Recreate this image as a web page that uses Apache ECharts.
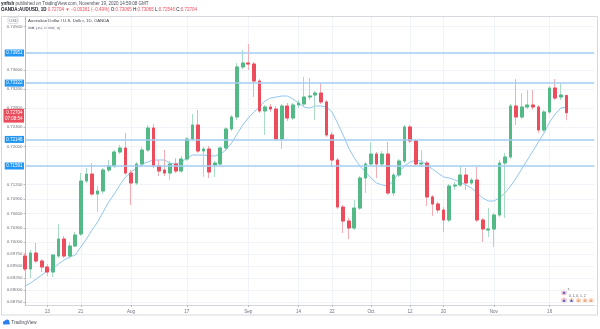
<!DOCTYPE html>
<html>
<head>
<meta charset="utf-8">
<script src="https://cdn.jsdelivr.net/npm/echarts@6/dist/echarts.min.js"></script>
<style>
  html, body { margin: 0; padding: 0; background: #ffffff; }
  #chart { width: 600px; height: 329px; }
</style>
</head>
<body>
<div id="chart"></div>
<script>
// AUD/USD daily candles, OANDA, 7 Jul - 19 Nov 2020
const tradingDays = [
  '2020-07-07','2020-07-08','2020-07-09','2020-07-10','2020-07-13','2020-07-14','2020-07-15','2020-07-16','2020-07-17',
  '2020-07-20','2020-07-21','2020-07-22','2020-07-23','2020-07-24','2020-07-27','2020-07-28','2020-07-29','2020-07-30','2020-07-31',
  '2020-08-03','2020-08-04','2020-08-05','2020-08-06','2020-08-07','2020-08-10','2020-08-11','2020-08-12','2020-08-13','2020-08-14',
  '2020-08-17','2020-08-18','2020-08-19','2020-08-20','2020-08-21','2020-08-24','2020-08-25','2020-08-26','2020-08-27','2020-08-28',
  '2020-08-31','2020-09-01','2020-09-02','2020-09-03','2020-09-04','2020-09-07','2020-09-08','2020-09-09','2020-09-10','2020-09-11',
  '2020-09-14','2020-09-15','2020-09-16','2020-09-17','2020-09-18','2020-09-21','2020-09-22','2020-09-23','2020-09-24','2020-09-25',
  '2020-09-28','2020-09-29','2020-09-30','2020-10-01','2020-10-02','2020-10-05','2020-10-06','2020-10-07','2020-10-08','2020-10-09',
  '2020-10-12','2020-10-13','2020-10-14','2020-10-15','2020-10-16','2020-10-19','2020-10-20','2020-10-21','2020-10-22','2020-10-23',
  '2020-10-26','2020-10-27','2020-10-28','2020-10-29','2020-10-30','2020-11-02','2020-11-03','2020-11-04','2020-11-05','2020-11-06',
  '2020-11-09','2020-11-10','2020-11-11','2020-11-12','2020-11-13','2020-11-16','2020-11-17','2020-11-18','2020-11-19'
];
// empty sessions kept on the right of the last bar
const futureDays = ['2020-11-20','2020-11-23','2020-11-24','2020-11-25','2020-11-26'];

const opens = [
  0.69711,0.69440,0.69774,0.69607,0.69481,0.69377,0.69711,0.70066,0.69711,0.69920,
  0.70171,0.71278,0.71423,0.71006,0.71069,0.71507,0.71591,0.71883,0.71967,0.71444,
  0.71236,0.71633,0.71925,0.72385,0.71591,0.71507,0.71444,0.71633,0.71486,0.71737,
  0.72155,0.72447,0.71904,0.71946,0.71612,0.71633,0.71967,0.72364,0.72614,0.73659,
  0.73742,0.73721,0.73366,0.72740,0.72823,0.72781,0.72155,0.72844,0.72593,0.72865,
  0.72886,0.73032,0.73074,0.73115,0.72928,0.72239,0.71716,0.70734,0.70442,0.70296,
  0.70713,0.71340,0.71633,0.71841,0.71633,0.71841,0.71027,0.71403,0.71695,0.72406,
  0.72113,0.71633,0.71653,0.70944,0.70798,0.70672,0.70463,0.71173,0.71194,0.71403,
  0.71236,0.71298,0.70463,0.70254,0.70275,0.70567,0.71653,0.71779,0.72844,0.72614,
  0.72823,0.72865,0.72823,0.72343,0.72719,0.73220,0.73032,0.73065
];
const closes = [
  0.69440,0.69774,0.69607,0.69481,0.69377,0.69732,0.70066,0.69711,0.69920,0.70150,
  0.71278,0.71423,0.71006,0.71069,0.71507,0.71591,0.71883,0.71967,0.71444,0.71236,
  0.71633,0.71925,0.72385,0.71591,0.71486,0.71444,0.71633,0.71486,0.71737,0.72155,
  0.72447,0.71904,0.71946,0.71465,0.71653,0.71967,0.72364,0.72614,0.73659,0.73742,
  0.73721,0.73366,0.72740,0.72823,0.72781,0.72155,0.72844,0.72593,0.72865,0.72907,
  0.73032,0.73053,0.73115,0.72928,0.72239,0.71716,0.70734,0.70442,0.70296,0.70713,
  0.71340,0.71633,0.71841,0.71633,0.71841,0.71027,0.71403,0.71695,0.72406,0.72113,
  0.71633,0.71653,0.70944,0.70798,0.70672,0.70463,0.71173,0.71194,0.71403,0.71236,
  0.71298,0.70463,0.70275,0.70275,0.70567,0.71653,0.71779,0.72844,0.72614,0.72823,
  0.72865,0.72823,0.72343,0.72719,0.73220,0.73011,0.73074,0.72704
];
const lows = [
  0.69398,0.69252,0.69565,0.69377,0.69294,0.69273,0.69669,0.69669,0.69649,0.69900,
  0.70129,0.71236,0.70965,0.70630,0.71006,0.71465,0.71549,0.71841,0.71403,0.70777,
  0.71194,0.71591,0.71883,0.71549,0.71382,0.71382,0.71298,0.71444,0.71444,0.71695,
  0.72113,0.71862,0.71361,0.71340,0.71361,0.71591,0.71925,0.72322,0.72552,0.73617,
  0.73596,0.73032,0.72698,0.72239,0.72719,0.72113,0.71946,0.72531,0.72552,0.72802,
  0.72844,0.72969,0.72552,0.72886,0.72197,0.71570,0.70692,0.70191,0.70066,0.70254,
  0.70672,0.71027,0.71591,0.71340,0.71591,0.70986,0.70965,0.71361,0.71653,0.72071,
  0.71591,0.71570,0.70755,0.70547,0.70609,0.70212,0.70421,0.71090,0.71152,0.71090,
  0.71194,0.70421,0.70004,0.70108,0.69900,0.70526,0.70505,0.71737,0.72447,0.72572,
  0.72781,0.72760,0.72280,0.72301,0.72677,0.72969,0.72969,0.72546
];
const highs = [
  0.69774,0.69837,0.69983,0.69649,0.69544,0.69753,0.70379,0.70129,0.70004,0.70212,
  0.71444,0.71549,0.71653,0.71173,0.71549,0.71716,0.71925,0.72030,0.72280,0.71507,
  0.71674,0.71988,0.72447,0.72468,0.71716,0.71925,0.71695,0.71758,0.71800,0.72197,
  0.72677,0.72760,0.71988,0.72009,0.71695,0.72009,0.72406,0.72656,0.73742,0.74014,
  0.74139,0.73763,0.73408,0.72865,0.72886,0.72844,0.72886,0.72907,0.72907,0.72969,
  0.73450,0.73429,0.73157,0.73324,0.72969,0.72301,0.71758,0.70777,0.70505,0.70881,
  0.71382,0.71674,0.72092,0.71883,0.71904,0.72092,0.71444,0.71737,0.72447,0.72447,
  0.72155,0.71925,0.71695,0.70986,0.70839,0.70734,0.71215,0.71257,0.71591,0.71549,
  0.71340,0.71570,0.70505,0.70713,0.70609,0.71716,0.71862,0.72886,0.73408,0.73115,
  0.73178,0.73178,0.72865,0.72760,0.73262,0.73408,0.73324,0.73065
];
// MA (10, close, 0)
const ma10 = [
  0.69085,0.69147,0.69231,0.69314,0.69398,0.69461,0.69544,0.69628,0.69691,0.69732,
  0.69899,0.70066,0.70254,0.70421,0.70630,0.70839,0.71006,0.71194,0.71361,0.71465,
  0.71549,0.71633,0.71674,0.71716,0.71716,0.71716,0.71653,0.71633,0.71674,0.71758,
  0.71820,0.71820,0.71820,0.71800,0.71800,0.71841,0.71925,0.72071,0.72259,0.72447,
  0.72593,0.72719,0.72823,0.72949,0.73011,0.73032,0.73053,0.73053,0.72990,0.72907,
  0.72823,0.72802,0.72844,0.72844,0.72823,0.72719,0.72489,0.72239,0.71967,0.71758,
  0.71591,0.71465,0.71340,0.71236,0.71194,0.71173,0.71278,0.71465,0.71591,0.71674,
  0.71716,0.71695,0.71612,0.71528,0.71444,0.71361,0.71340,0.71298,0.71257,0.71194,
  0.71131,0.71027,0.70923,0.70860,0.70860,0.70923,0.71027,0.71173,0.71340,0.71528,
  0.71716,0.71904,0.72092,0.72280,0.72510,0.72677,0.72802,0.72823
];

const xTickLabels = {
  '2020-07-13': '13', '2020-07-21': '21', '2020-08-03': 'Aug', '2020-08-17': '17',
  '2020-09-01': 'Sep', '2020-09-14': '14', '2020-09-22': '22', '2020-10-01': 'Oct',
  '2020-10-12': '12', '2020-10-20': '20', '2020-11-02': 'Nov', '2020-11-16': '16'
};
const priceTicks = [0.745, 0.736, 0.732, 0.728, 0.724, 0.720, 0.712, 0.709, 0.706, 0.703,
                    0.700, 0.6975, 0.695, 0.6925, 0.690, 0.6875];
const levelLines = [0.73951, 0.73322, 0.72146, 0.71591];
const lastPrice = 0.72704;
const countdown = '07:08:54';

const UP = '#53b987', DOWN = '#eb4d5c';
const UP_WICK = '#a9dcc4', DOWN_WICK = '#f4adb5';
const FONT = '"Liberation Sans", Arial, sans-serif';

const categories = tradingDays.concat(futureDays);
const candles = tradingDays.map((d, i) => [opens[i], closes[i], lows[i], highs[i]]);
const bodies = tradingDays.map((d, i) => [opens[i], closes[i],
  Math.min(opens[i], closes[i]), Math.max(opens[i], closes[i])]);

const isTick = (idx, val) => !!xTickLabels[val];

const chart = echarts.init(document.getElementById('chart'), null, { renderer: 'canvas' });

const levelMarks = levelLines.map(v => ({
  yAxis: v,
  lineStyle: { color: '#a3ccf2', width: 1.6, type: 'solid' },
  label: {
    show: true, position: 'start', distance: 1,
    formatter: () => v.toFixed(5),
    backgroundColor: '#2196f3', color: '#ffffff',
    fontSize: 4.5, fontFamily: FONT, padding: [1.2, 1.5, 0.8, 1.5]
  }
}));
const priceMark = {
  yAxis: lastPrice,
  lineStyle: { color: 'rgba(235,77,92,0)', width: 1, type: 'solid' },
  label: {
    show: true, position: 'start', distance: 1, offset: [0, 3],
    formatter: () => lastPrice.toFixed(5) + '\n' + countdown,
    backgroundColor: DOWN, color: '#ffffff', lineHeight: 6.5, opacity: 1,
    fontSize: 4.5, fontFamily: FONT, padding: [0.6, 1.5, 0.2, 1.5]
  }
};

const option = {
  animation: false,
  backgroundColor: '#ffffff',
  grid: { left: 25, right: 5.7, top: 17, bottom: 24, containLabel: false },
  xAxis: {
    type: 'category',
    data: categories,
    boundaryGap: false,
    axisLine: { show: true, lineStyle: { color: '#d4d6dc', width: 1 } },
    axisTick: { show: true, interval: isTick, length: 2, lineStyle: { color: '#b8bbc3' } },
    axisLabel: {
      interval: isTick, formatter: v => xTickLabels[v] || '',
      fontSize: 4.6, color: '#6f727c', fontFamily: FONT, margin: 4
    },
    splitLine: { show: true, interval: isTick, lineStyle: { color: '#f0f3f8', width: 1 } }
  },
  yAxis: {
    type: 'value',
    position: 'left',
    min: 0.68688, max: 0.74703,
    axisLine: { show: true, lineStyle: { color: '#b9bcc4', width: 1 } },
    axisTick: { show: true, customValues: priceTicks, length: 1.5, lineStyle: { color: '#b9bcc4' } },
    axisLabel: {
      customValues: priceTicks, formatter: v => v.toFixed(5),
      fontSize: 4.4, color: '#6f727c', fontFamily: FONT, margin: 2.5
    },
    splitLine: { show: true, lineStyle: { color: '#f0f3f8', width: 1 } }
  },
  series: [
    {
      name: 'wicks', type: 'candlestick', data: candles, barWidth: 3.2, z: 4,
      itemStyle: { color: UP, color0: DOWN, borderColor: UP_WICK, borderColor0: DOWN_WICK, borderWidth: 1 }
    },
    {
      name: 'AUDUSD', type: 'candlestick', data: bodies, barWidth: 3.2, z: 5,
      itemStyle: { color: UP, color0: DOWN, borderColor: UP, borderColor0: DOWN, borderWidth: 1 }
    },
    {
      name: 'MA (10, close, 0)', type: 'line', data: ma10,
      symbol: 'none', smooth: false, z: 3,
      lineStyle: { color: '#92c6f2', width: 1 },
      markLine: {
        silent: true, symbol: ['none', 'none'], animation: false, z: 6, precision: 5,
        data: levelMarks.concat([priceMark])
      }
    }
  ],
  graphic: [
    // pane frame
    { type: 'rect', silent: true, z: 0,
      shape: { x: 1.5, y: 16.5, width: 596, height: 298.5 },
      style: { fill: null, stroke: '#d6d8de', lineWidth: 1 } },
    // header
    { type: 'text', left: 1, top: 1.2, silent: true,
      style: {
        text: '{b|ynfish} published on TradingView.com, November 19, 2020 14:59:08 GMT',
        fill: '#4a4d57', font: '4.5px ' + FONT,
        rich: { b: { fontWeight: 'bold', fill: '#131722', fontSize: 4.5, fontFamily: FONT } }
      } },
    { type: 'text', left: 1, top: 7.6, silent: true,
      style: {
        text: '{b|OANDA:AUDUSD, 1D} {r|0.72704 \u25BC \u22120.00361 (\u22120.49%)} O:{r|0.73065} H:{r|0.73065} L:{r|0.72546} C:{r|0.72704}',
        fill: '#131722', font: '4.5px ' + FONT,
        rich: {
          b: { fontWeight: 'bold', fill: '#131722', fontSize: 4.5, fontFamily: FONT },
          r: { fill: DOWN, fontSize: 4.5, fontFamily: FONT }
        }
      } },
    // legend inside the pane
    { type: 'text', left: 28, top: 19, silent: true,
      style: { text: 'Australian Dollar / U.S. Dollar, 1D, OANDA', fill: '#3a3d47', font: '4.3px ' + FONT } },
    { type: 'text', left: 28, top: 25.5, silent: true,
      style: { text: 'MA (10, close, 0)', fill: '#5a5d67', font: '4.3px ' + FONT } },
    // currency badge on the price scale
    { type: 'rect', silent: true, shape: { x: 8, y: 17.5, width: 10, height: 6, r: 1 },
      style: { fill: '#ffffff', stroke: '#c9ccd3', lineWidth: 0.6 } },
    { type: 'text', left: 9.3, top: 18.6, silent: true,
      style: { text: 'USD', fill: '#6f727c', font: '4px ' + FONT } },
    // TradingView mark
    { type: 'group', left: 3, top: 319.5, silent: true, children: [
      { type: 'circle', shape: { cx: 3, cy: 3.2, r: 1.8 }, style: { fill: '#2d7ff0' } },
      { type: 'circle', shape: { cx: 5.3, cy: 2.4, r: 2.3 }, style: { fill: '#2d7ff0' } },
      { type: 'rect', shape: { x: 1.5, y: 3, width: 6.5, height: 2 }, style: { fill: '#2d7ff0' } },
      { type: 'text', x: 9.5, y: 1.2, style: { text: 'TradingView', fill: '#4a4d57', font: '4.6px ' + FONT } }
    ] },
    // event markers near the time scale
    { type: 'group', left: 561, top: 288, silent: true, children: [
      { type: 'circle', shape: { cx: 4, cy: 4, r: 3 }, style: { fill: '#f8c9cf' } },
      { type: 'polygon', shape: { points: [[2.5, 5.2], [5.5, 5.2], [4, 2.6]] }, style: { fill: '#3450d8' } },
      { type: 'text', x: 7.5, y: -0.5, style: { text: '3', fill: '#555', font: '3.5px ' + FONT } },
      { type: 'circle', shape: { cx: 4, cy: 12, r: 3 }, style: { fill: '#f8c9cf' } },
      { type: 'polygon', shape: { points: [[2.5, 13.2], [5.5, 13.2], [4, 10.6]] }, style: { fill: '#3450d8' } },
      { type: 'circle', shape: { cx: 11.5, cy: 12, r: 2.6 }, style: { fill: '#f9d8c9' } },
      { type: 'polygon', shape: { points: [[10, 13.2], [13, 13.2], [11.5, 10.6]] }, style: { fill: '#3450d8' } },
      { type: 'circle', shape: { cx: 18.5, cy: 12, r: 2.6 }, style: { fill: '#f9d8c9' } },
      { type: 'polygon', shape: { points: [[17, 13.2], [20, 13.2], [18.5, 10.6]] }, style: { fill: '#f0a060' } },
      { type: 'circle', shape: { cx: 25, cy: 12, r: 2.6 }, style: { fill: '#f9d8c9' } },
      { type: 'polygon', shape: { points: [[23.5, 13.2], [26.5, 13.2], [25, 10.6]] }, style: { fill: '#f0a060' } },
      { type: 'circle', shape: { cx: 31, cy: 12, r: 2.6 }, style: { fill: '#f9d8c9' } },
      { type: 'polygon', shape: { points: [[29.5, 13.2], [32.5, 13.2], [31, 10.6]] }, style: { fill: '#f0a060' } },
      { type: 'text', x: 9, y: 6.5, style: { text: '0, 1, 0, 1, 2', fill: '#555', font: '3.3px ' + FONT } }
    ] }
  ]
};

chart.setOption(option);
</script>
</body>
</html>
